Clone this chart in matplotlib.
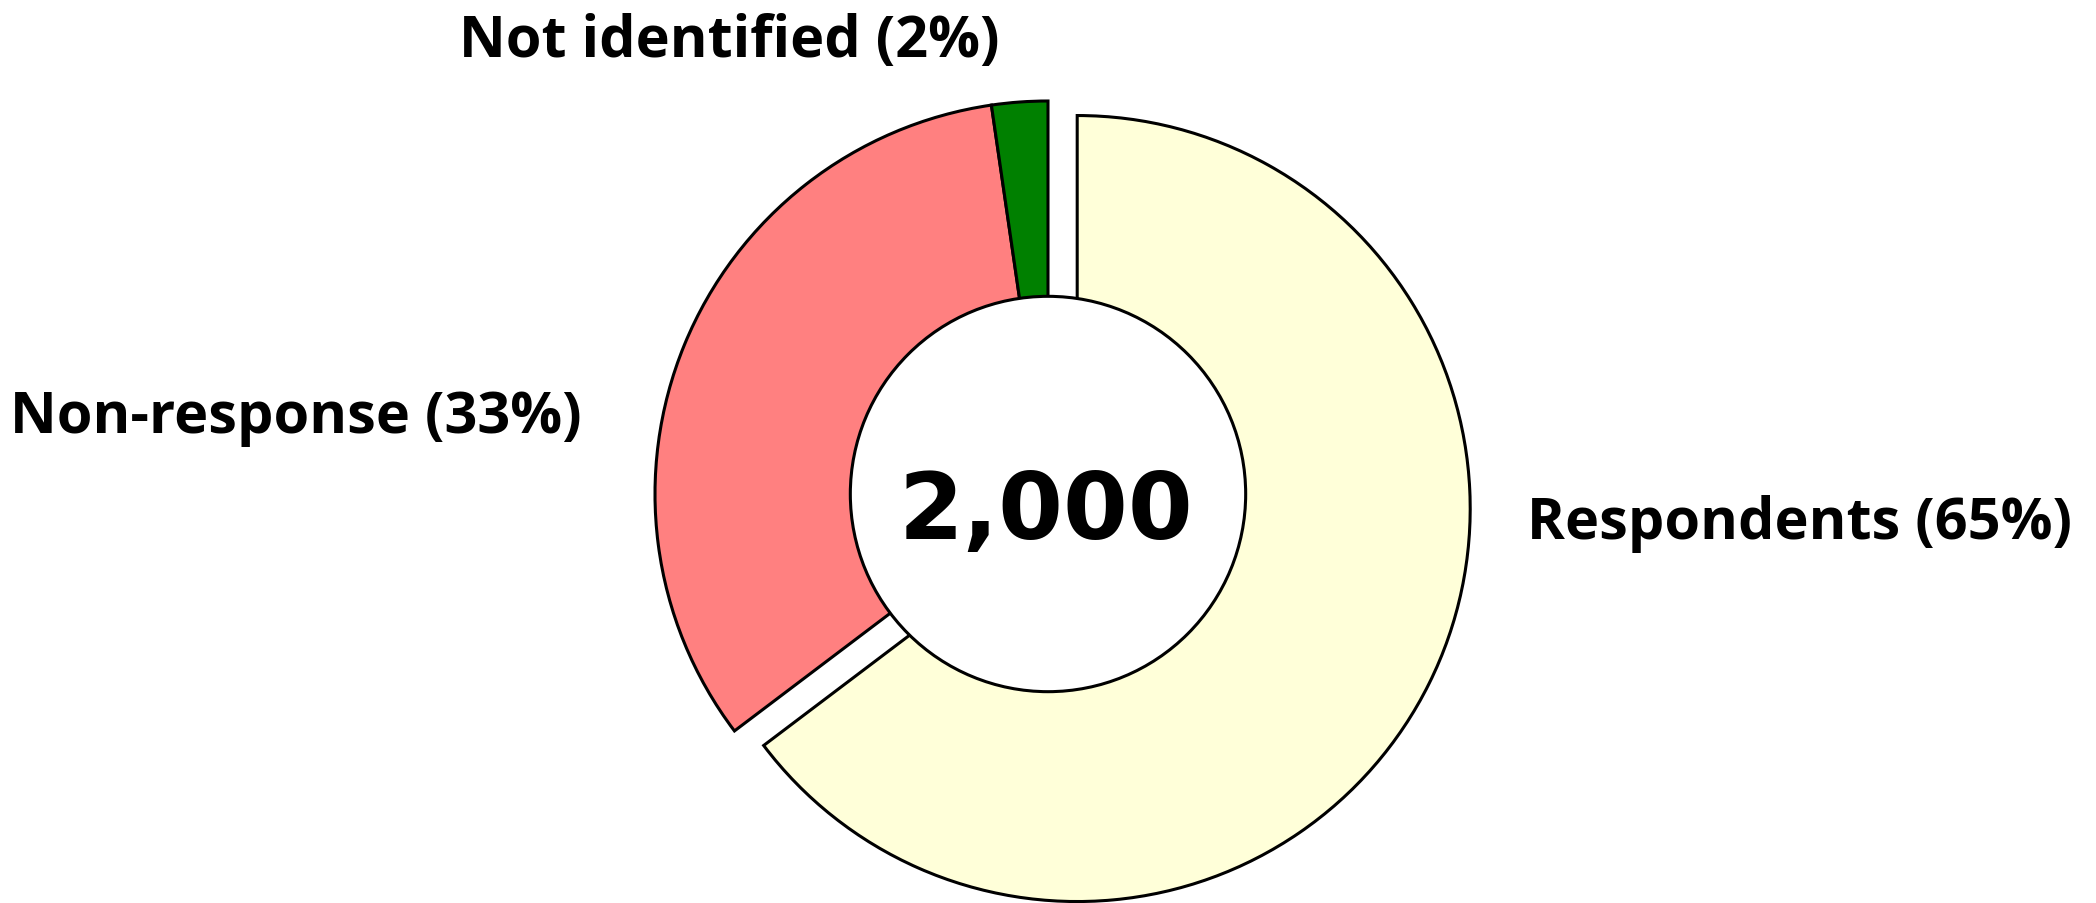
import matplotlib
matplotlib.use("Agg")
import matplotlib.pyplot as plt
from matplotlib.patches import Circle

categories = ["Respondents", "Non-response", "Not identified"]
shares = [64.7, 33.0, 2.3]
colors = ["#FFFFD9", "#FF8080", "#008000"]
total_label = "2,000"

W, H, DPI = 2096, 904, 100
R_PX = 393.0
CX, CY = 1048.0, 495.0  # donut centre in pixels (from top-left)

fig = plt.figure(figsize=(W / DPI, H / DPI), dpi=DPI)
ax = fig.add_axes([0, 0, 1, 1])

ax.pie(shares, colors=colors, startangle=90, counterclock=False,
       explode=[0.083, 0, 0], radius=1.0, center=(0, 0),
       wedgeprops=dict(edgecolor="black", linewidth=2.2), frame=False)
ax.set_xlim(-CX / R_PX, (W - CX) / R_PX)
ax.set_ylim(-(H - CY) / R_PX, CY / R_PX)
ax.set_aspect("auto")
ax.axis("off")

ax.add_patch(Circle((0, 0), 0.503, facecolor="white", edgecolor="black",
                    linewidth=2.2, zorder=5))

ax.text(-0.005, -0.112, total_label, ha="center", va="baseline",
        fontsize=67, fontweight="bold", family="DejaVu Sans", zorder=6)

label_pos = {
    "Respondents": (1.913, -0.112),
    "Non-response": (-1.913, 0.158),
    "Not identified": (-0.812, 1.1145),
}
for cat, val in zip(categories, shares):
    x, y = label_pos[cat]
    ax.text(x, y, f"{cat} ({round(val)}%)", ha="center", va="baseline",
            fontsize=41.5, fontweight="bold", family=["Open Sans", "DejaVu Sans"])

fig.savefig("out.png", dpi=DPI)
